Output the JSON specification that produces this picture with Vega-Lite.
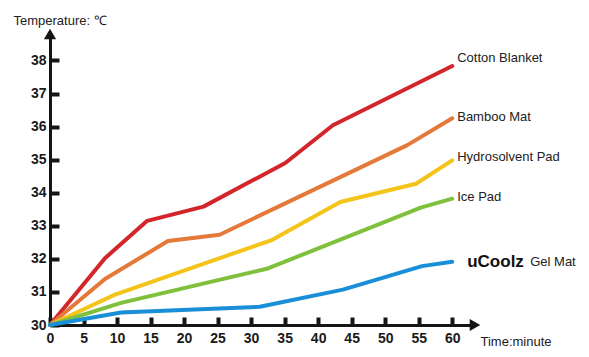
{
  "$schema": "https://vega.github.io/schema/vega-lite/v6.json",
  "autosize": "none",
  "width": 425,
  "height": 291,
  "padding": {"left": 50, "top": 34, "right": 114, "bottom": 32},
  "background": "white",
  "config": {
    "view": {"stroke": null},
    "font": "Liberation Sans",
    "axis": {"grid": false, "labelOverlap": false, "labelSeparation": 0}
  },
  "datasets": {
    "lines": [
      {"series": "Cotton Blanket", "t": 0, "temp": 30},
      {"series": "Cotton Blanket", "t": 8.2, "temp": 32.02},
      {"series": "Cotton Blanket", "t": 14.5, "temp": 33.15},
      {"series": "Cotton Blanket", "t": 22.9, "temp": 33.58},
      {"series": "Cotton Blanket", "t": 35.1, "temp": 34.9},
      {"series": "Cotton Blanket", "t": 42.2, "temp": 36.04},
      {"series": "Cotton Blanket", "t": 60, "temp": 37.83},
      {"series": "Bamboo Mat", "t": 0, "temp": 30},
      {"series": "Bamboo Mat", "t": 8.2, "temp": 31.39},
      {"series": "Bamboo Mat", "t": 17.6, "temp": 32.54},
      {"series": "Bamboo Mat", "t": 25.3, "temp": 32.73},
      {"series": "Bamboo Mat", "t": 53.3, "temp": 35.44},
      {"series": "Bamboo Mat", "t": 60, "temp": 36.25},
      {"series": "Hydrosolvent Pad", "t": 0, "temp": 30},
      {"series": "Hydrosolvent Pad", "t": 9.7, "temp": 30.92},
      {"series": "Hydrosolvent Pad", "t": 33.1, "temp": 32.57},
      {"series": "Hydrosolvent Pad", "t": 43.3, "temp": 33.72},
      {"series": "Hydrosolvent Pad", "t": 54.6, "temp": 34.27},
      {"series": "Hydrosolvent Pad", "t": 60, "temp": 34.98},
      {"series": "Ice Pad", "t": 0, "temp": 30},
      {"series": "Ice Pad", "t": 10.6, "temp": 30.67},
      {"series": "Ice Pad", "t": 32.5, "temp": 31.71},
      {"series": "Ice Pad", "t": 55.3, "temp": 33.55},
      {"series": "Ice Pad", "t": 60, "temp": 33.82},
      {"series": "Gel Mat", "t": 0, "temp": 30},
      {"series": "Gel Mat", "t": 10.6, "temp": 30.38},
      {"series": "Gel Mat", "t": 31.3, "temp": 30.55},
      {"series": "Gel Mat", "t": 43.7, "temp": 31.07},
      {"series": "Gel Mat", "t": 55.5, "temp": 31.78},
      {"series": "Gel Mat", "t": 60, "temp": 31.91}
    ],
    "labels": [
      {"label": "Cotton Blanket", "brand": "", "t": 60, "temp": 38.07},
      {"label": "Bamboo Mat", "brand": "", "t": 60, "temp": 36.28},
      {"label": "Hydrosolvent Pad", "brand": "", "t": 60, "temp": 35.08},
      {"label": "Ice Pad", "brand": "", "t": 60, "temp": 33.87},
      {"label": "Gel Mat", "brand": "uCoolz", "t": 60, "temp": 31.9}
    ]
  },
  "layer": [
    {
      "data": {"name": "lines"},
      "mark": {"type": "line", "strokeWidth": 4, "strokeJoin": "round", "strokeCap": "round"},
      "encoding": {
        "x": {
          "field": "t", "type": "quantitative",
          "scale": {"domain": [0, 63.4], "nice": false, "zero": false},
          "axis": {
            "values": [0, 5, 10, 15, 20, 25, 30, 35, 40, 45, 50, 55, 60],
            "tickCount": 30, "format": "d",
            "title": "Time:minute",
            "titleFont": "Liberation Sans", "titleFontSize": 13, "titleFontWeight": "normal", "titleColor": "#222",
            "titleX": 430, "titleY": 16, "titleAlign": "left", "titleBaseline": "middle", "titleAnchor": "start",
            "domainColor": "#151515", "domainWidth": 3,
            "tickColor": "#151515", "tickWidth": 4, "tickSize": -8,
            "labelFont": "Liberation Sans", "labelFontSize": 14, "labelFontWeight": "bold", "labelColor": "#1a1a1a",
            "labelPadding": 14, "labelFlush": false, "labelOverlap": false, "labelBound": false
          }
        },
        "y": {
          "field": "temp", "type": "quantitative",
          "scale": {"domain": [30, 38.8], "nice": false, "zero": false},
          "axis": {
            "values": [30, 31, 32, 33, 34, 35, 36, 37, 38],
            "tickCount": 30, "format": "d",
            "title": "Temperature: ℃",
            "titleFont": "Liberation Sans", "titleFontSize": 13, "titleFontWeight": "normal", "titleColor": "#222",
            "titleAngle": 0, "titleX": -37, "titleY": -14, "titleAlign": "left", "titleBaseline": "middle", "titleAnchor": "start",
            "domainColor": "#151515", "domainWidth": 3,
            "tickColor": "#151515", "tickWidth": 4, "tickSize": -9,
            "labelFont": "Liberation Sans", "labelFontSize": 14, "labelFontWeight": "bold", "labelColor": "#1a1a1a",
            "labelPadding": 13, "labelFlush": false, "labelOverlap": false, "labelBound": false
          }
        },
        "color": {
          "field": "series", "type": "nominal",
          "scale": {
            "domain": ["Cotton Blanket", "Bamboo Mat", "Hydrosolvent Pad", "Ice Pad", "Gel Mat"],
            "range": ["#d2262a", "#e4793a", "#f4c41a", "#7fc03c", "#1a8fd8"]
          },
          "legend": null
        }
      }
    },
    {
      "data": {"values": [{}]},
      "mark": {"type": "point", "shape": "triangle-up", "filled": true, "size": 150, "color": "#151515", "opacity": 1},
      "encoding": {"x": {"datum": 0, "type": "quantitative"}, "y": {"datum": 38.8, "type": "quantitative"}}
    },
    {
      "data": {"values": [{}]},
      "mark": {"type": "point", "shape": "triangle-right", "filled": true, "size": 150, "color": "#151515", "opacity": 1},
      "encoding": {"x": {"datum": 63.4, "type": "quantitative"}, "y": {"datum": 30, "type": "quantitative"}}
    },
    {
      "data": {"name": "labels"},
      "transform": [{"filter": "datum.label != 'Gel Mat'"}],
      "mark": {"type": "text", "align": "left", "baseline": "middle", "dx": 5, "fontSize": 13, "font": "Liberation Sans", "color": "#222"},
      "encoding": {
        "x": {"field": "t", "type": "quantitative"},
        "y": {"field": "temp", "type": "quantitative"},
        "text": {"field": "label"}
      }
    },
    {
      "data": {"name": "labels"},
      "transform": [{"filter": "datum.label == 'Gel Mat'"}],
      "mark": {"type": "text", "align": "left", "baseline": "middle", "dx": 78, "fontSize": 13, "font": "Liberation Sans", "color": "#222"},
      "encoding": {
        "x": {"field": "t", "type": "quantitative"},
        "y": {"field": "temp", "type": "quantitative"},
        "text": {"field": "label"}
      }
    },
    {
      "data": {"name": "labels"},
      "transform": [{"filter": "datum.brand != ''"}],
      "mark": {"type": "text", "align": "left", "baseline": "middle", "dx": 15, "fontSize": 17, "fontWeight": "bold", "font": "Liberation Sans", "color": "#111"},
      "encoding": {
        "x": {"field": "t", "type": "quantitative"},
        "y": {"field": "temp", "type": "quantitative"},
        "text": {"field": "brand"}
      }
    }
  ]
}
